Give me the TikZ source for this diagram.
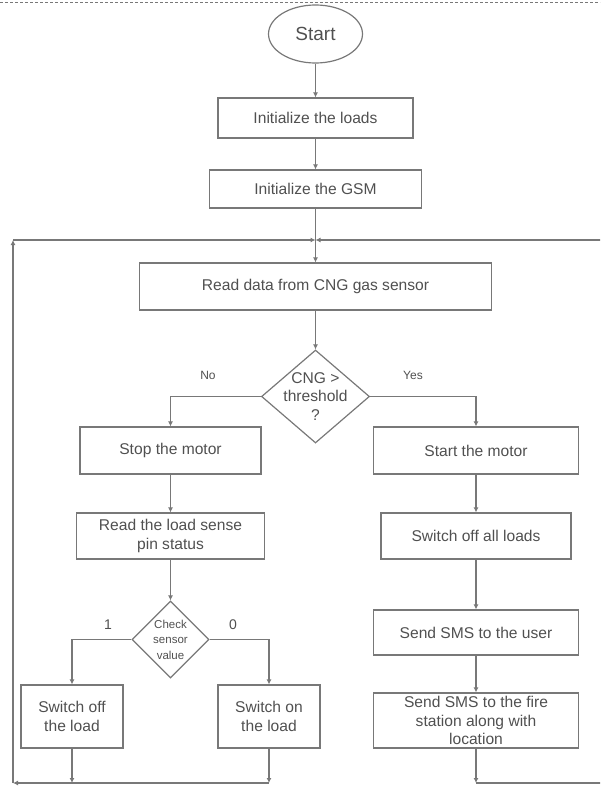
\documentclass[tikz,border=0pt]{standalone}
\usepackage{fontspec}
\setmainfont{Liberation Sans}
\usepackage{tikz}
\usetikzlibrary{shapes.geometric,arrows.meta}
\definecolor{linegray}{RGB}{120,120,120}
\definecolor{textgray}{RGB}{80,80,80}

\begin{document}
\begin{tikzpicture}[x=1pt,y=-1pt]
			\tikzstyle{box} = [draw=linegray, line width=1.2pt, rectangle, inner sep=0pt, align=center, text=textgray, font=\fontsize{15.6}{18.6}\selectfont]
			\tikzstyle{terminal} = [draw=linegray, line width=1.2pt, ellipse, inner sep=0pt, text=textgray, font=\fontsize{19}{22}\selectfont]
			\tikzstyle{decision} = [draw=linegray, line width=1.2pt, diamond, inner sep=-6pt, align=center, text=textgray, font=\fontsize{15.6}{18.6}\selectfont]
			\tikzstyle{check} = [draw=linegray, line width=1.2pt, diamond, inner sep=-5pt, align=center, text=textgray, font=\fontsize{11.5}{15.5}\selectfont]
			\tikzstyle{answer} = [inner sep=0pt, text=textgray, font=\fontsize{12}{14}\selectfont]
			\tikzstyle{digit} = [inner sep=0pt, text=textgray, font=\fontsize{14}{16}\selectfont]
			\tikzstyle{arr} = [draw=linegray, line width=1.2pt, -{Latex[length=5pt,width=5pt]}]
			\tikzstyle{wire} = [draw=linegray, line width=1.2pt]
			\path[use as bounding box] (0,0) rectangle (600,787);
			\clip (0,0) rectangle (600,787);
			\draw[linegray, line width=0.8pt, dash pattern=on 3pt off 2pt] (0,2) -- (600,2);
			\node[terminal, minimum width=94pt, minimum height=58pt] (start) at (315.5,34) {Start};
			\node[box, minimum width=195pt, minimum height=40pt] (initload) at (315.5,118) {Initialize the loads};
			\node[box, minimum width=212pt, minimum height=38pt] (initgsm) at (315.5,189) {Initialize the GSM};
			\node[box, minimum width=352pt, minimum height=47pt] (readcng) at (315.5,286.5) {Read data from CNG gas sensor};
			\node[decision, minimum width=108pt, minimum height=93pt] (cng) at (315.5,396.5) {CNG >\\threshold\\?};
			\node[answer] (no) at (208,375) {No};
			\node[answer] (yes) at (413,375) {Yes};
			\node[box, minimum width=181pt, minimum height=47pt] (stopm) at (170.5,450.5) {Stop the motor};
			\node[box, minimum width=205pt, minimum height=47pt] (startm) at (476,450.5) {Start the motor};
			\node[box, minimum width=188pt, minimum height=46pt] (readpin) at (170.5,536) {Read the load sense\\pin status};
			\node[box, minimum width=190pt, minimum height=46pt] (offall) at (476,536) {Switch off all loads};
			\node[check, minimum width=77pt, minimum height=77pt] (check) at (170.5,639.5) {Check\\sensor\\value};
			\node[digit] (one) at (108,625) {1};
			\node[digit] (zero) at (233,625) {0};
			\node[box, minimum width=205pt, minimum height=45pt] (smsuser) at (476,632.5) {Send SMS to the user};
			\node[box, minimum width=102pt, minimum height=63pt] (offload) at (72,716.5) {Switch off\\the load};
			\node[box, minimum width=102pt, minimum height=63pt] (onload) at (269,716.5) {Switch on\\the load};
			\node[box, minimum width=205pt, minimum height=55pt] (smsfire) at (476,720.5) {Send SMS to the fire\\station along with\\location};
			\coordinate (jn) at (315.5,240);
			\coordinate (tl) at (13,240);
			\coordinate (bl) at (13,783);
			\coordinate (b1) at (72,783);
			\coordinate (b2) at (269,783);
			\coordinate (b3) at (476,783);
			\coordinate (br) at (640,783);
			\coordinate (tr) at (640,240);
			\draw[arr] (start) -- (initload);
			\draw[arr] (initload) -- (initgsm);
			\draw[arr] (initgsm) -- (readcng);
			\draw[arr] (readcng) -- (cng);
			\draw[arr] (cng.west) -| (stopm.north);
			\draw[arr] (cng.east) -| (startm.north);
			\draw[arr] (stopm) -- (readpin);
			\draw[arr] (readpin) -- (check);
			\draw[arr] (check.west) -| (offload.north);
			\draw[arr] (check.east) -| (onload.north);
			\draw[arr] (startm) -- (offall);
			\draw[arr] (offall) -- (smsuser);
			\draw[arr] (smsuser) -- (smsfire);
			\draw[arr] (offload) -- (b1);
			\draw[arr] (onload) -- (b2);
			\draw[arr] (smsfire) -- (b3);
			\draw[arr] (b2) -- (bl);
			\draw[arr] (bl) -- (tl);
			\draw[arr] (tl) -- (jn);
			\draw[wire] (b3) -- (br) -- (tr);
			\draw[arr] (tr) -- (jn);
		\end{tikzpicture}
\end{document}
